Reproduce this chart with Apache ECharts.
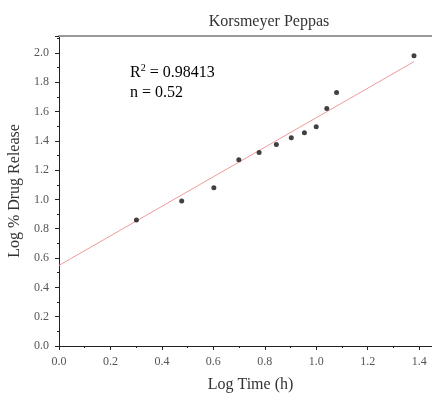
<!DOCTYPE html>
<html><head><meta charset="utf-8">
<script src="https://cdn.jsdelivr.net/npm/echarts@6/dist/echarts.min.js"></script>
<style>html,body{margin:0;padding:0;background:#fff}#c{width:432px;height:394px}</style>
</head><body><div id="c"></div>
<script>
const logTime = [0.301, 0.477, 0.602, 0.699, 0.778, 0.845, 0.903, 0.954, 1.0, 1.041, 1.079, 1.380];
const logRelease = [0.86, 0.99, 1.08, 1.27, 1.32, 1.375, 1.42, 1.455, 1.495, 1.62, 1.73, 1.98];
const fitX = [0, 1.38];
const fitY = [0.55, 1.94];
const titleText = 'Korsmeyer Peppas';
const xName = 'Log Time (h)';
const yName = 'Log % Drug Release';

const F = '"Liberation Serif", "DejaVu Serif", serif';
const chart = echarts.init(document.getElementById('c'));
chart.setOption({
  animation: false,
  title: {text: titleText, left: 264, top: 9, textAlign: 'center',
    textStyle: {fontFamily: F, fontSize: 16, fontWeight: 'normal', color: '#333'}},
  grid: {left: 59, top: 36, right: 0, bottom: 48, containLabel: false, outerBoundsMode: 'none'},
  xAxis: [{
    type: 'value', min: 0, max: 1.45, interval: 0.2,
    name: xName, nameLocation: 'middle', nameGap: 31,
    nameTextStyle: {fontFamily: F, fontSize: 16, color: '#333', padding: [0, 0, 0, 10]},
    axisLine: {show: true, lineStyle: {color: '#222', width: 1}},
    axisTick: {show: true, length: 4, lineStyle: {color: '#222'}},
    minorTick: {show: true, splitNumber: 2, length: 2, lineStyle: {color: '#222'}},
    splitLine: {show: false},
    axisLabel: {fontFamily: F, fontSize: 12, color: '#555', margin: 10,
      formatter: v => v.toFixed(1), showMaxLabel: false}
  }, {
    type: 'value', position: 'top', min: 0, max: 1.45,
    axisLine: {show: true, lineStyle: {color: '#999', width: 2}},
    axisTick: {show: false}, axisLabel: {show: false}, splitLine: {show: false}
  }],
  yAxis: {
    type: 'value', min: 0, max: 2.115, interval: 0.2,
    name: yName, nameLocation: 'middle', nameGap: 32,
    nameTextStyle: {fontFamily: F, fontSize: 16, color: '#333'},
    axisLine: {show: true, lineStyle: {color: '#222', width: 1}},
    axisTick: {show: true, length: 4, lineStyle: {color: '#222'}},
    minorTick: {show: true, splitNumber: 2, length: 2, lineStyle: {color: '#222'}},
    splitLine: {show: false},
    axisLabel: {fontFamily: F, fontSize: 12, color: '#555', margin: 10,
      formatter: v => v.toFixed(1), showMaxLabel: false}
  },
  graphic: [{
    type: 'text', left: 130, top: 63,
    style: {
      text: '{a|R}{s|2}{a| = 0.98413}\n{a|n = 0.52}',
      rich: {
        a: {fontFamily: F, fontSize: 16, color: '#333', lineHeight: 20},
        s: {fontFamily: F, fontSize: 10, color: '#333', verticalAlign: 'top', lineHeight: 20, padding: [0, 0, 7, 0]}
      }
    }
  }],
  series: [{
    type: 'line', data: fitX.map((x, i) => [x, fitY[i]]),
    showSymbol: false, lineStyle: {color: '#ee9a9a', width: 1}, z: 1
  }, {
    type: 'scatter', data: logTime.map((x, i) => [x, logRelease[i]]),
    symbol: 'circle', symbolSize: 5, itemStyle: {color: '#111'}, z: 3
  }]
});
</script></body></html>
